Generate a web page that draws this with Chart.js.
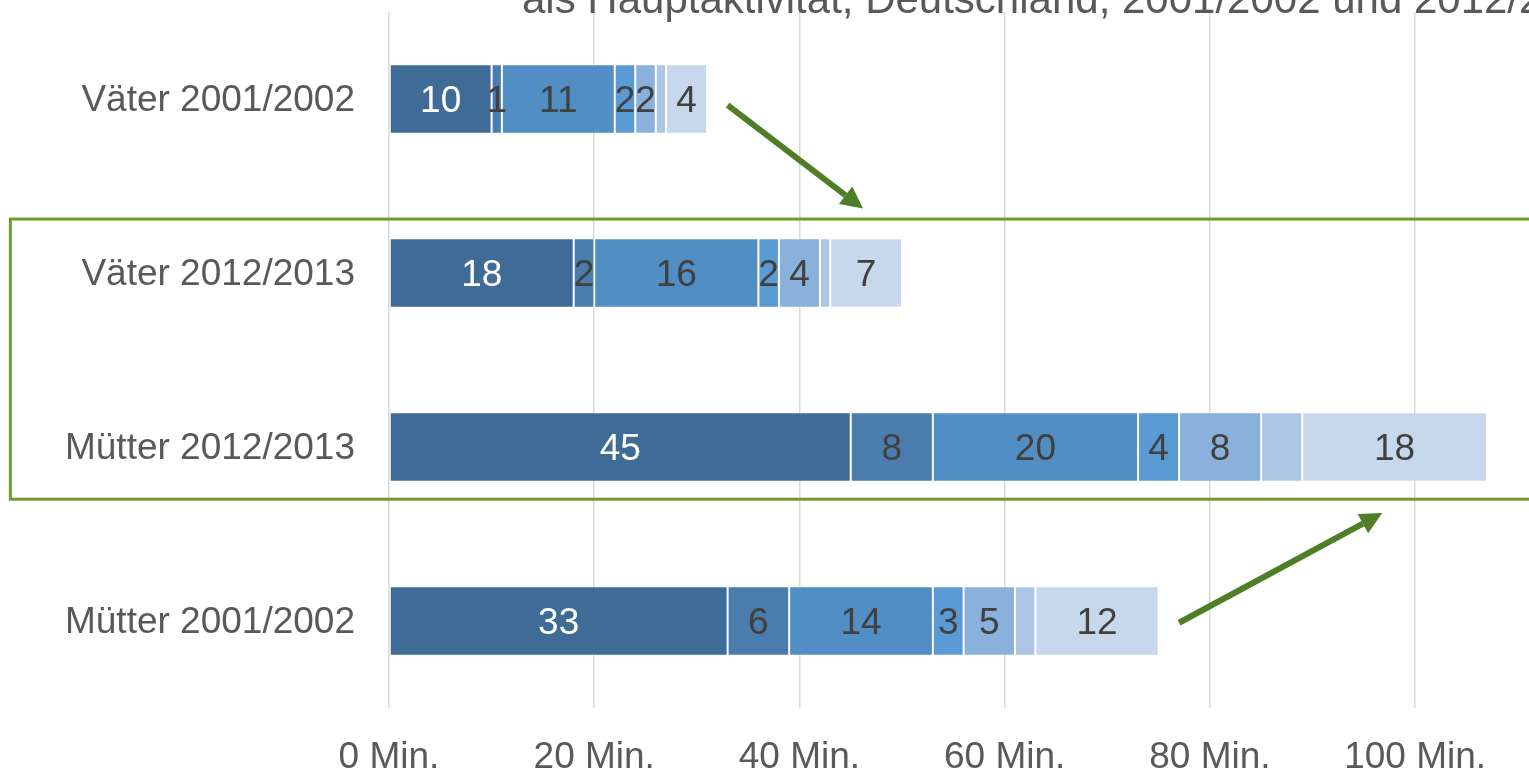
<!DOCTYPE html>
<html lang="de">
<head>
<meta charset="utf-8">
<script src="https://cdn.jsdelivr.net/npm/chart.js@4.4.1/dist/chart.umd.min.js"></script>
<style>
  html, body { margin: 0; padding: 0; background: #fff; overflow: hidden; }
  #wrap { width: 1529px; height: 769px; position: relative; }
</style>
</head>
<body>
<div id="wrap"><canvas id="chart" width="1529" height="769"></canvas></div>
<script>
const categories = ['Väter 2001/2002', 'Väter 2012/2013', 'Mütter 2012/2013', 'Mütter 2001/2002'];
const seriesNames = ['Teil 1', 'Teil 2', 'Teil 3', 'Teil 4', 'Teil 5', 'Teil 6', 'Teil 7'];
const seriesValues = [
    [10, 18, 45, 33],
    [1, 2, 8, 6],
    [11, 16, 20, 14],
    [2, 2, 4, 3],
    [2, 4, 8, 5],
    [1, 1, 4, 2],
    [4, 7, 18, 12]
];
const seriesColors = ['#3f6c96', '#4a7cad', '#518ec3', '#5b9bd5', '#8ab0dc', '#adc6e6', '#c7d8ed'];
const showLabel = [true, true, true, true, true, false, true];
const xTicks = [0, 20, 40, 60, 80, 100];
const titleLine = 'als Hauptaktivität, Deutschland, 2001/2002 und 2012/2013';

const FONT = '"Liberation Sans", Arial, sans-serif';
const green = '#4e7f28';

// green frame and arrows, placed in data units (minutes / category index)
const frame = { xFrom: -36.9, yFrom: 0.69, yTo: 2.30 };
const arrows = [
    { x1: 33.0, y1: 0.035, x2: 46.2, y2: 0.63 },
    { x1: 77.0, y1: 3.01, x2: 96.8, y2: 2.38 }
];

const extras = {
    id: 'extras',
    afterDatasetsDraw(chart) {
        const ctx = chart.ctx;
        // value labels
        ctx.save();
        ctx.font = '37px ' + FONT;
        ctx.textAlign = 'center';
        ctx.textBaseline = 'middle';
        chart.data.datasets.forEach((ds, i) => {
            if (!showLabel[i]) return;
            const meta = chart.getDatasetMeta(i);
            meta.data.forEach((bar, j) => {
                const v = ds.data[j];
                const p = bar.getProps(['x', 'y', 'base'], true);
                ctx.fillStyle = i === 0 ? '#ffffff' : '#404040';
                ctx.fillText(String(v), (p.x + p.base) / 2, p.y + 3);
            });
        });
        ctx.restore();
    },
    afterDraw(chart) {
        const ctx = chart.ctx;
        const xs = chart.scales.x, ys = chart.scales.y;
        ctx.save();
        // frame
        ctx.strokeStyle = '#6f9a2e';
        ctx.lineWidth = 3;
        const fx = xs.getPixelForValue(frame.xFrom);
        const fy1 = ys.getPixelForValue(frame.yFrom);
        const fy2 = ys.getPixelForValue(frame.yTo);
        ctx.strokeRect(fx, fy1, chart.width + 20 - fx, fy2 - fy1);
        // arrows
        arrows.forEach(a => {
            const x1 = xs.getPixelForValue(a.x1), y1 = ys.getPixelForValue(a.y1);
            const x2 = xs.getPixelForValue(a.x2), y2 = ys.getPixelForValue(a.y2);
            const ang = Math.atan2(y2 - y1, x2 - x1);
            const head = 22, hw = 11;
            const bx = x2 - head * Math.cos(ang), by = y2 - head * Math.sin(ang);
            ctx.strokeStyle = green;
            ctx.fillStyle = green;
            ctx.lineWidth = 6;
            ctx.beginPath();
            ctx.moveTo(x1, y1);
            ctx.lineTo(bx, by);
            ctx.stroke();
            ctx.beginPath();
            ctx.moveTo(x2, y2);
            ctx.lineTo(bx + hw * Math.sin(ang), by - hw * Math.cos(ang));
            ctx.lineTo(bx - hw * Math.sin(ang), by + hw * Math.cos(ang));
            ctx.closePath();
            ctx.fill();
        });
        // title (only its last line is inside the frame)
        ctx.font = '42px ' + FONT;
        ctx.fillStyle = '#595959';
        ctx.textAlign = 'left';
        ctx.textBaseline = 'alphabetic';
        ctx.fillText(titleLine, 522, 12.5);
        ctx.restore();
    }
};

new Chart(document.getElementById('chart'), {
    type: 'bar',
    data: {
        labels: categories,
        datasets: seriesValues.map((vals, i) => ({
            label: seriesNames[i],
            data: vals,
            backgroundColor: seriesColors[i],
            borderColor: 'rgba(255,255,255,0.2)',
            borderWidth: 1,
            borderSkipped: false,
            categoryPercentage: 1,
            barPercentage: 0.4
        }))
    },
    options: {
        indexAxis: 'y',
        responsive: false,
        animation: false,
        devicePixelRatio: 1,
        layout: { padding: { top: 12, left: 0, right: 0, bottom: 0 } },
        plugins: {
            legend: { display: false },
            tooltip: { enabled: false },
            title: { display: false }
        },
        scales: {
            x: {
                stacked: true,
                min: 0,
                max: 111.1,
                afterBuildTicks: axis => { axis.ticks = xTicks.map(v => ({ value: v })); },
                afterFit: axis => { axis.height = 61; },
                grid: { color: '#d9d9d9', lineWidth: 1.5, drawTicks: false },
                border: { display: false },
                ticks: {
                    padding: 28,
                    color: '#595959',
                    font: { family: FONT, size: 37 },
                    callback: v => v + ' Min.'
                }
            },
            y: {
                stacked: true,
                afterFit: axis => {
                    axis.width = 389;
                    axis.paddingTop = 0;
                    axis.paddingBottom = 0;
                },
                grid: { display: false },
                border: { display: false },
                ticks: {
                    padding: 26,
                    labelOffset: 2,
                    color: '#595959',
                    font: { family: FONT, size: 37 }
                }
            }
        }
    },
    plugins: [extras]
});
</script>
</body>
</html>
